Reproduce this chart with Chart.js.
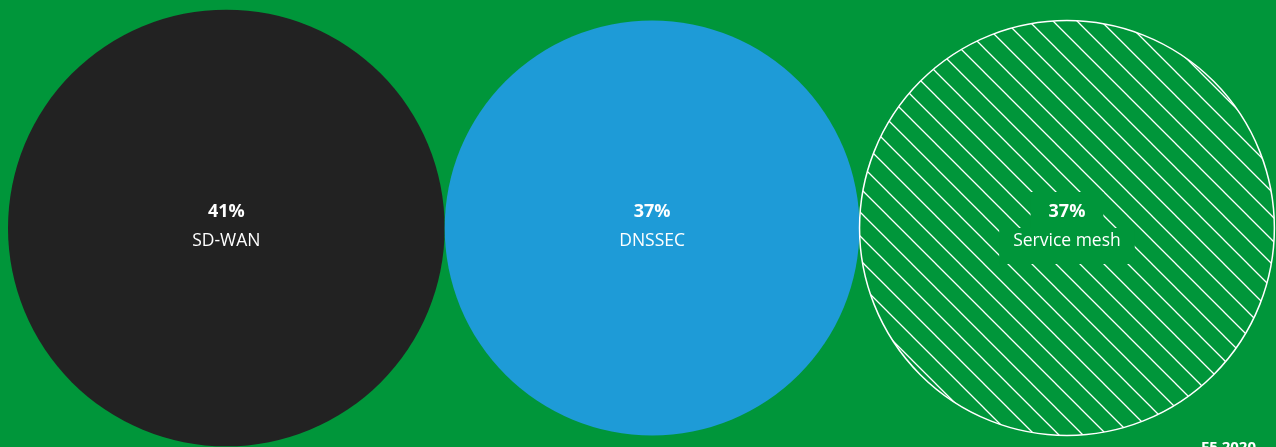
<!DOCTYPE html>
<html>
<head>
<meta charset="utf-8">
<script src="https://cdn.jsdelivr.net/npm/chart.js@4/dist/chart.umd.min.js"></script>
<style>
  html, body { margin: 0; padding: 0; background: #00963a; }
  #wrap { width: 1276px; height: 447px; position: relative; }
</style>
</head>
<body>
<div id="wrap"><canvas id="bubbleChart"></canvas></div>
<script>
// 調査データ
const categories = ['SD-WAN', 'DNSSEC', 'Service mesh'];
const shares = [41, 37, 37];
const sourceNote = 'F5 2020';

const GREEN = '#00963a';
const FONT = '"Open Sans", Lato, sans-serif';

// 斜線パターン
function makeHatch() {
    const s = 24;
    const c = document.createElement('canvas');
    c.width = s; c.height = s;
    const g = c.getContext('2d');
    g.fillStyle = GREEN;
    g.fillRect(0, 0, s, s);
    g.strokeStyle = '#ffffff';
    g.lineWidth = 1.3;
    g.beginPath();
    g.moveTo(-2, -2); g.lineTo(s + 2, s + 2);
    g.moveTo(-2, s - 2); g.lineTo(2, s + 2);
    g.moveTo(s - 2, -2); g.lineTo(s + 2, 2);
    g.stroke();
    return g.createPattern(c, 'repeat');
}

// 面積が割合に比例するように半径を決め、円を隣り合わせに並べる
const radiusPerRoot = 34.1;
const startX = 8;
const points = [];
let cursor = startX;
shares.forEach((v, i) => {
    const r = radiusPerRoot * Math.sqrt(v);
    points.push({ x: cursor + r, y: 0, r: r, label: categories[i], value: v });
    cursor += 2 * r;
});

const labelPlugin = {
    id: 'bubbleLabels',
    afterDatasetsDraw(chart) {
        const ctx = chart.ctx;
        const meta = chart.getDatasetMeta(0);
        meta.data.forEach((el, i) => {
            const p = points[i];
            const top = p.value + '%';
            ctx.save();
            ctx.textAlign = 'center';
            ctx.textBaseline = 'middle';
            if (i === 2) {
                // テキストの背景を緑で塗る
                ctx.fillStyle = GREEN;
                ctx.font = 'bold 18px ' + FONT;
                const w1 = ctx.measureText(top).width;
                ctx.fillRect(el.x - w1 / 2 - 18, el.y - 36, w1 + 36, 36);
                ctx.font = '17.5px ' + FONT;
                const w2 = ctx.measureText(p.label).width;
                ctx.fillRect(el.x - w2 / 2 - 14, el.y, w2 + 28, 36);
            }
            ctx.fillStyle = '#ffffff';
            ctx.font = 'bold 18px ' + FONT;
            ctx.fillText(top, el.x, el.y - 16);
            ctx.font = '17.5px ' + FONT;
            ctx.fillText(p.label, el.x, el.y + 13);
            ctx.restore();
        });
        ctx.save();
        ctx.fillStyle = '#ffffff';
        ctx.font = 'bold 15px ' + FONT;
        ctx.textAlign = 'right';
        ctx.textBaseline = 'alphabetic';
        ctx.fillText(sourceNote, 1256, 452);
        ctx.restore();
    }
};

const ctx = document.getElementById('bubbleChart').getContext('2d');
new Chart(ctx, {
    type: 'bubble',
    data: {
        datasets: [{
            data: points,
            backgroundColor: ['#222222', '#1e9bd7', makeHatch()],
            borderColor: ['rgba(0,0,0,0)', 'rgba(0,0,0,0)', '#ffffff'],
            borderWidth: [0, 0, 1.5],
            hoverRadius: 0,
            clip: false
        }]
    },
    options: {
        responsive: true,
        maintainAspectRatio: false,
        animation: false,
        events: [],
        layout: { padding: 0, autoPadding: false },
        plugins: {
            legend: { display: false },
            tooltip: { enabled: false }
        },
        scales: {
            x: { type: 'linear', min: 0, max: 1276, display: false },
            y: { type: 'linear', min: -219, max: 228, display: false }
        }
    },
    plugins: [labelPlugin]
});
</script>
</body>
</html>
